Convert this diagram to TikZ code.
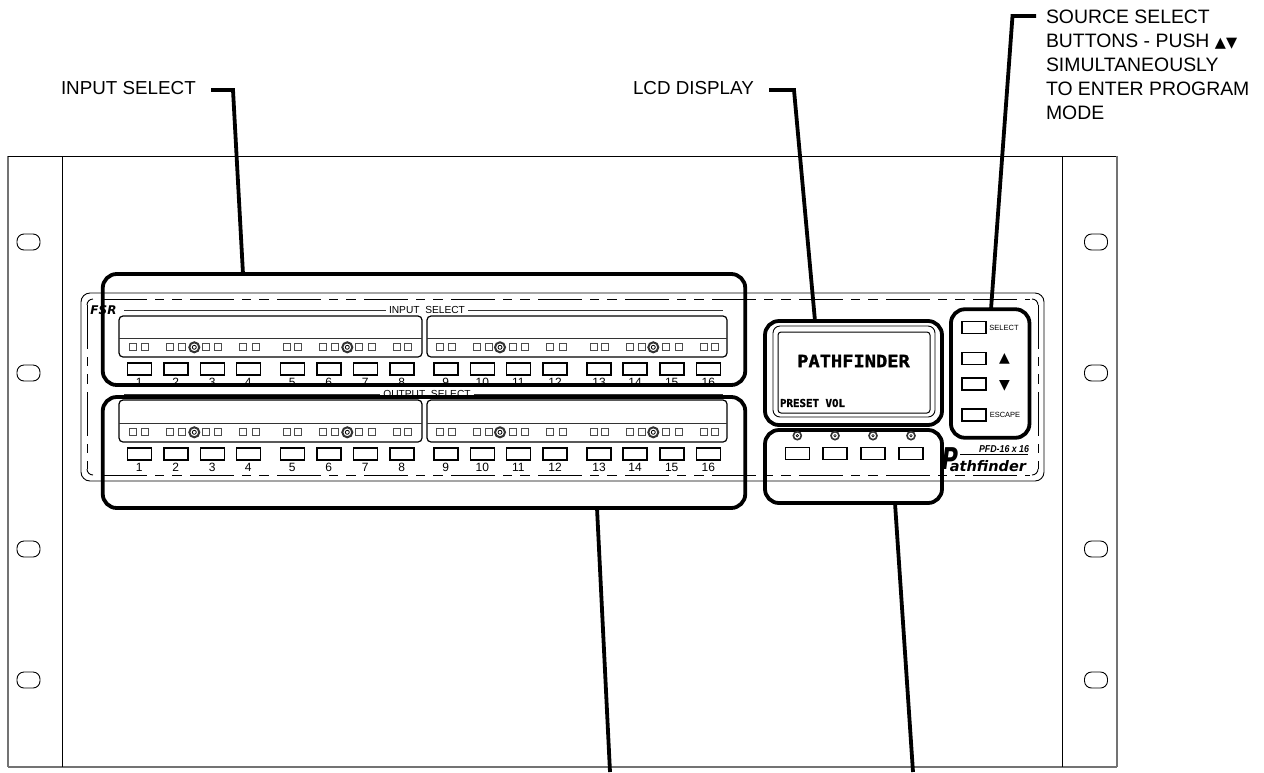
\documentclass[tikz,border=0pt]{standalone}
\usepackage{fontspec}
\setmainfont{Liberation Sans}
\newfontfamily\lcdfont[BoldFeatures={FakeBold=1.6}]{DejaVu Sans Mono}
\newfontfamily\logofont[BoldFeatures={FakeBold=1}]{DejaVu Sans}
\usetikzlibrary{calc}
\tikzset{
  x=1pt,y=-1pt,
  every node/.style={inner sep=0pt,outer sep=0pt},
  callout/.style={font=\fontsize{18.8}{24}\selectfont,anchor=west,align=left},
  tiny label/.style={font=\fontsize{10.2}{11}\selectfont},
  num/.style={font=\fontsize{12}{12}\selectfont},
  keytext/.style={font=\fontsize{7.5}{8}\selectfont},
  leader/.style={line width=3.8pt,line join=miter},
  hilite/.style={draw,line width=3.8pt,rounded corners=14pt},
  btn/.style={draw,line width=1.6pt,minimum width=24pt,minimum height=12pt},
  led/.style={draw,line width=1pt,draw=black!70,minimum width=6.8pt,minimum height=6.8pt},
  ring/.style={circle,draw,line width=2pt,draw=black!80,minimum size=10pt},
  smallring/.style={circle,draw,line width=1.6pt,draw=black!80,minimum size=8pt},
  lcdpanel/.style={draw,line width=1.2pt,rounded corners=4pt},
  slot/.style={draw,line width=.9pt,rounded corners=7pt,minimum width=23pt,minimum height=16pt},
  dashline/.style={line width=.9pt,dash pattern=on 44pt off 8pt on 9pt off 8pt on 10pt off 8pt},
  frame/.style={line width=.9pt},
  grayframe/.style={line width=1.5pt,draw=black!55},
  thinrule/.style={line width=.8pt,draw=black!80}
}
\newcommand{\ledrow}[2]{% y, tag
  \foreach \lx [count=\lidx] in {132.7,145,170,181.7,206,218,243.3,255.7,286.7,298.3,323.3,335,359.3,371.7,396.7,408.3}{
    \node[led] (la-#2-\lidx) at (\lx,#1) {};
    \node[led] (lb-#2-\lidx) at (\lx+307,#1) {};
  }
  \foreach \rx [count=\ridx] in {194.3,347.3,500,653.3}{
    \node[ring] (r-#2-\ridx) at (\rx,#1) {};
    \node[circle,draw,line width=.8pt,minimum size=4pt] (rc-#2-\ridx) at (\rx,#1) {};
  }
}
\newcommand{\btnrow}[3]{% button y, label y, tag
  \foreach \bx/\bn in {139.3/1,175.7/2,212.3/3,248.3/4,292.3/5,328.7/6,365.3/7,401.7/8,445.7/9,482.3/10,518.3/11,555/12,599/13,635/14,671.7/15,708.3/16}{
    \node[btn] (b-#3-\bn) at (\bx,#1) {};
    \node[num] (n-#3-\bn) at (\bx,#2) {\bn};
  }
}
\begin{document}
\begin{tikzpicture}
\useasboundingbox (0,0) rectangle (1264,772);
% chassis
\draw[grayframe] (8,156) -- (8,767);
\draw[grayframe] (8,767) -- (1117,767);
\draw[frame] (8,156) -- (1117,156);
\draw[frame] (62.5,156) -- (62.5,767);
\draw[frame] (1062,156) -- (1062,767);
\draw[grayframe] (1117,156) -- (1117,767);
\foreach \sy [count=\sidx] in {242,373,549,680}{
  \node[slot] (sl-\sidx) at (28.5,\sy) {};
  \node[slot] (sr-\sidx) at (1096,\sy) {};
}
% front panel
\draw[line width=.9pt,rounded corners=9pt] (81,293) rectangle (1044,481);
\draw[dashline] (103,299) -- (1030,299);
\draw[dashline] (103,475) -- (1030,475);
\draw[line width=.9pt] (87,305) arc[start angle=180,end angle=90,radius=6pt];
\draw[line width=.9pt] (87,469) arc[start angle=180,end angle=270,radius=6pt];
\draw[line width=.9pt] (1032,299) arc[start angle=90,end angle=0,radius=6pt];
\draw[line width=.9pt] (1038,469) arc[start angle=0,end angle=-90,radius=6pt];
\draw[dashline] (87,305) -- (87,469);
\draw[dashline] (1038,305) -- (1038,469);
% section titles
\node[tiny label] (intitle) at (427,310) {INPUT\ \ SELECT};
\node[tiny label] (outtitle) at (427,394) {OUTPUT\ \ SELECT};
\draw[thinrule] (124,310) -- ([xshift=-3pt]intitle.west);
\draw[thinrule] ([xshift=3pt]intitle.east) -- (723,310);
\draw[thinrule] (124,394) -- ([xshift=-3pt]outtitle.west);
\draw[thinrule] ([xshift=3pt]outtitle.east) -- (723,394);
\node[font=\logofont\bfseries\itshape\fontsize{12}{12}\selectfont] (fsr) at (103.5,310) {FSR};
% display strips
\foreach \ptag/\cx/\pw in {a/270.5/303,b/577/300}{
  \node[lcdpanel,minimum width=\pw pt,minimum height=41pt] (pi\ptag) at (\cx,336.5) {};
  \node[lcdpanel,minimum width=\pw pt,minimum height=42pt] (po\ptag) at (\cx,421) {};
  \draw[thinrule] ([yshift=-1.5pt]pi\ptag.west) -- ([yshift=-1.5pt]pi\ptag.east);
  \draw[thinrule] ([yshift=-2pt]po\ptag.west) -- ([yshift=-2pt]po\ptag.east);
}
\ledrow{347.3}{i}
\ledrow{432.3}{o}
\btnrow{369.2}{382}{i}
\btnrow{454.2}{467}{o}
% logo
\node[font=\logofont\bfseries\itshape\fontsize{30}{30}\selectfont,anchor=east] (logoP) at (958,459) {\scalebox{.75}[1]{P}};
\node[font=\logofont\bfseries\itshape\fontsize{14.5}{15}\selectfont,anchor=east] (logoname) at (1026,466) {athfinder};
\node[font=\bfseries\itshape\fontsize{10}{10}\selectfont,anchor=east] (logomodel) at (1029,449) {\scalebox{.88}[1]{PFD-16 x 16}};
\draw[line width=1.2pt] (960,454.5) -- (1028,454.5);
% display
\node[hilite,minimum width=177pt,minimum height=104pt] (lcdbox) at (853.5,373) {};
\node[draw,line width=.9pt,rounded corners=7pt,minimum width=162pt,minimum height=91pt] (lcdmid) at (854,371.5) {};
\node[draw,line width=1pt,rounded corners=3pt,minimum width=152pt,minimum height=81pt] (lcdin) at (854,372.5) {};
\node[font=\lcdfont\bfseries\fontsize{17}{17}\selectfont] (lcdtext) at (853.5,361) {\scalebox{1.1}[1]{PATHFINDER}};
\node[font=\lcdfont\bfseries\fontsize{10.8}{11}\selectfont,anchor=west] (lcdsub) at (780,403) {PRESET VOL};
% preset buttons
\node[hilite,minimum width=177pt,minimum height=73pt] (presetbox) at (853.5,466.5) {};
\foreach \px [count=\pidx] in {797.3,835,873,911}{
  \node[smallring] (pr-\pidx) at (\px,435.7) {};
  \node[circle,draw,line width=.6pt,minimum size=2.5pt] (prc-\pidx) at (\px,435.7) {};
  \node[btn] (pb-\pidx) at (\px,453.3) {};
}
% source select
\node[hilite,minimum width=78.5pt,minimum height=128.5pt] (srcbox) at (990.2,373.5) {};
\node[btn] (sbA) at (974,327.5) {};
\node[btn] (sbB) at (974,358.3) {};
\node[btn] (sbC) at (974,384.2) {};
\node[btn] (sbD) at (974,415.2) {};
\node[keytext] (tselect) at (1004,328) {SELECT};
\node[keytext] (tescape) at (1005,415) {ESCAPE};
\node[font=\logofont\fontsize{14}{14}\selectfont] (tup) at (1004.5,359) {▲};
\node[font=\logofont\fontsize{14}{14}\selectfont] (tdown) at (1004.5,386) {▼};
% select groups
\node[hilite,minimum width=642.5pt,minimum height=111pt] (inbox) at (424,329.5) {};
\node[hilite,minimum width=642.5pt,minimum height=111pt] (outbox) at (424,452.5) {};
% callouts
\node[callout] (lblin) at (61,88) {INPUT SELECT};
\node[callout] (lbllcd) at (633,88) {LCD DISPLAY};
\node[callout,font=\fontsize{19.4}{24}\selectfont,anchor=north west] (lblsrc) at (1046,9.5)
  {SOURCE SELECT\\BUTTONS - PUSH {\logofont\fontsize{14.5}{11}\selectfont ▲▼}\\SIMULTANEOUSLY\\TO ENTER PROGRAM\\MODE};
\coordinate (inA) at (211,90);
\coordinate (inB) at (233,90);
\coordinate (inC) at (243,0);
\coordinate (lcdA) at (769,90);
\coordinate (lcdB) at (794,90);
\coordinate (lcdC) at (815,0);
\coordinate (srcA) at (1036,16);
\coordinate (srcB) at (1012.5,16);
\coordinate (srcC) at (991,0);
\coordinate (outC) at (597,0);
\coordinate (outD) at (610,772);
\coordinate (preC) at (895,0);
\coordinate (preD) at (913,772);
\draw[leader] (inA) -- (inB) -- (inC |- inbox.north);
\draw[leader] (lcdA) -- (lcdB) -- (lcdC |- lcdbox.north);
\draw[leader] (srcA) -- (srcB) -- (srcC |- srcbox.north);
\draw[leader] (outC |- outbox.south) -- (outD);
\draw[leader] (preC |- presetbox.south) -- (preD);
\end{tikzpicture}
\end{document}
